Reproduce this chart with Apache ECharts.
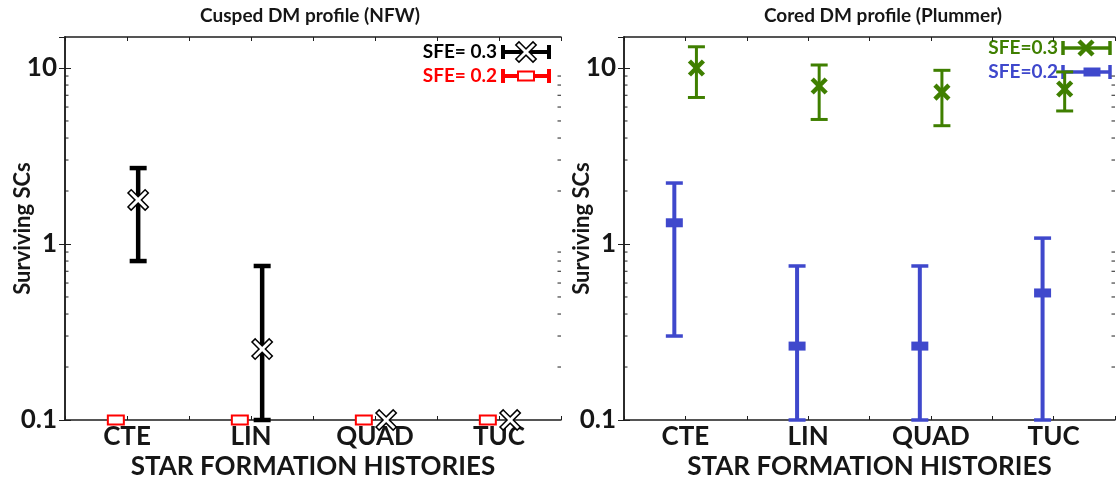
<!DOCTYPE html>
<html><head><meta charset="utf-8">
<script src="https://cdn.jsdelivr.net/npm/echarts@6/dist/echarts.min.js"></script>
<style>html,body{margin:0;padding:0;background:#fff}#c{width:1118px;height:487px}</style>
</head><body><div id="c"></div>
<script>
// ---------- data ----------
const categories = ['CTE', 'LIN', 'QUAD', 'TUC'];
const yTickLabels = ['0.1', '1', '10'];
const minorTickValues = [0.2, 0.3, 0.4, 0.5, 0.6, 0.7, 0.8, 0.9, 2, 3, 4, 5, 6, 7, 8, 9];
const panelTitles = ['Cusped DM profile (NFW)', 'Cored DM profile (Plummer)'];
const legendLabels = [['SFE= 0.3', 'SFE= 0.2'], ['SFE=0.3', 'SFE=0.2']];

// Left panel: NFW
const nfw03 = [1.78, 0.253, 0.1, 0.1];
const nfw03Low = [0.8, 0.1, null, null];
const nfw03High = [2.7, 0.75, null, null];
const nfw02 = [0.1, 0.1, 0.1, 0.1];

// Right panel: Plummer
const plum03 = [10.0, 7.9, 7.3, 7.6];
const plum03Low = [6.8, 5.1, 4.7, 5.7];
const plum03High = [13.2, 10.4, 9.7, 9.5];
const plum02 = [1.32, 0.263, 0.263, 0.527];
const plum02Low = [0.3, 0.1, 0.1, 0.1];
const plum02High = [2.22, 0.75, 0.75, 1.08];

// ---------- styling ----------
const FONT = 'Lato';
const TXT = '#161616';
const AX = '#1e1e1e';
const COL = { black: '#000000', red: '#ff0000', green: '#3f7f00', blue: '#3f48cc' };
const OFF = 0.09;

function markerEls(kind, cx, cy, color) {
  const els = [];
  if (kind === 'xOutline') {
    const s = 7;
    const pair = (lw, stroke) => [
      { type: 'line', shape: { x1: cx - s, y1: cy - s, x2: cx + s, y2: cy + s }, style: { stroke, lineWidth: lw, lineCap: 'square' } },
      { type: 'line', shape: { x1: cx - s, y1: cy + s, x2: cx + s, y2: cy - s }, style: { stroke, lineWidth: lw, lineCap: 'square' } }
    ];
    els.push(...pair(6, color), ...pair(3, '#ffffff'));
  } else if (kind === 'xSolid') {
    const s = 7;
    els.push(
      { type: 'line', shape: { x1: cx - s, y1: cy - s, x2: cx + s, y2: cy + s }, style: { stroke: color, lineWidth: 4.5 } },
      { type: 'line', shape: { x1: cx - s, y1: cy + s, x2: cx + s, y2: cy - s }, style: { stroke: color, lineWidth: 4.5 } }
    );
  } else if (kind === 'rectHollow') {
    els.push({ type: 'rect', shape: { x: cx - 8, y: cy - 4.5, width: 16, height: 9 }, style: { fill: '#ffffff', stroke: color, lineWidth: 2 } });
  } else if (kind === 'rectFill') {
    els.push({ type: 'rect', shape: { x: cx - 8.5, y: cy - 4.5, width: 17, height: 9 }, style: { fill: color } });
  }
  return els;
}

function buildData(vals, lo, hi, off) {
  return vals.map((v, i) => [i + 0.5 + off, v,
    lo && lo[i] != null ? lo[i] : NaN,
    hi && hi[i] != null ? hi[i] : NaN]);
}

function errSeries(gi, data, st) {
  return {
    type: 'custom', xAxisIndex: gi * 2, yAxisIndex: gi * 2, clip: false, z: 5,
    encode: { x: 0, y: 1 },
    data,
    renderItem: function (params, api) {
      const x = api.value(0), y = api.value(1), lo = api.value(2), hi = api.value(3);
      const children = [];
      if (!isNaN(lo) && !isNaN(hi)) {
        const pl = api.coord([x, lo]), ph = api.coord([x, hi]);
        children.push({ type: 'line', shape: { x1: pl[0], y1: pl[1], x2: ph[0], y2: ph[1] }, style: { stroke: st.color, lineWidth: st.lw } });
        [pl, ph].forEach(p => children.push({ type: 'line', shape: { x1: p[0] - st.capW / 2, y1: p[1], x2: p[0] + st.capW / 2, y2: p[1] }, style: { stroke: st.color, lineWidth: st.capLw } }));
      }
      const c = api.coord([x, y]);
      children.push(...markerEls(st.marker, c[0], c[1], st.color));
      return { type: 'group', children };
    }
  };
}

function minorTickSeries(gi) {
  return {
    type: 'custom', xAxisIndex: gi * 2, yAxisIndex: gi * 2, clip: false, z: 3, silent: true,
    encode: { x: 0, y: 1 },
    data: minorTickValues.map(v => [0, v]),
    renderItem: function (params, api) {
      const v = api.value(1);
      const l = api.coord([0, v]), r = api.coord([4, v]);
      return { type: 'group', children: [
        { type: 'line', shape: { x1: l[0], y1: l[1], x2: l[0] + 3.5, y2: l[1] }, style: { stroke: AX, lineWidth: 1 } },
        { type: 'line', shape: { x1: r[0], y1: r[1], x2: r[0] - 3.5, y2: r[1] }, style: { stroke: AX, lineWidth: 1 } }
      ] };
    }
  };
}

const grids = [
  { left: 65, top: 37, width: 496, height: 383 },
  { left: 624, top: 37, width: 495, height: 383 }
];

const xAxes = [], yAxes = [];
[0, 1].forEach(gi => {
  xAxes.push({
    gridIndex: gi, type: 'value', min: 0, max: 4, interval: 0.5, position: 'bottom',
    splitLine: { show: false },
    axisLine: { show: true, lineStyle: { color: AX, width: 1.5 } },
    axisTick: { show: true, inside: true, length: 4, lineStyle: { color: AX } },
    axisLabel: {
      margin: 4, color: TXT, fontFamily: FONT, fontWeight: 'bold', fontSize: 26,
      formatter: v => (Math.round(v * 2) % 2 === 1 ? categories[Math.floor(v)] : '')
    },
    name: 'STAR FORMATION HISTORIES', nameLocation: 'middle', nameGap: 34, nameMoveOverlap: false,
    nameTextStyle: { color: TXT, fontFamily: FONT, fontWeight: 'bold', fontSize: 26 }
  });
  xAxes.push({
    gridIndex: gi, type: 'value', min: 0, max: 4, interval: 0.5, position: 'top',
    splitLine: { show: false },
    axisLine: { show: true, lineStyle: { color: AX, width: 1.5 } },
    axisTick: { show: true, inside: true, length: 4, lineStyle: { color: AX } },
    axisLabel: { show: false }
  });
  yAxes.push({
    gridIndex: gi, type: 'log', logBase: 10, min: 0.1, max: 15, position: 'left',
    splitLine: { show: false },
    axisLine: { show: true, lineStyle: { color: AX, width: 1.5 } },
    axisTick: { show: true, inside: true, length: 6, lineStyle: { color: AX } },
    axisLabel: {
      margin: 8, color: TXT, fontFamily: FONT, fontWeight: 'bold', fontSize: 26, showMaxLabel: false,
      formatter: v => { const e = Math.log10(v), r = Math.round(e); return (Math.abs(e - r) < 1e-6 && r >= -1 && r <= 1) ? yTickLabels[r + 1] : ''; }
    },
    name: 'Surviving SCs', nameLocation: 'middle', nameGap: 31, nameRotate: 90, nameMoveOverlap: false,
    nameTextStyle: { color: TXT, fontFamily: FONT, fontWeight: 'bold', fontSize: 22 }
  });
  yAxes.push({
    gridIndex: gi, type: 'log', logBase: 10, min: 0.1, max: 15, position: 'right',
    splitLine: { show: false },
    axisLine: { show: true, lineStyle: { color: AX, width: 1.5 } },
    axisTick: { show: true, inside: true, length: 6, lineStyle: { color: AX } },
    axisLabel: { show: false }
  });
});

const S = {
  black: { color: COL.black, marker: 'xOutline', lw: 4.5, capW: 17, capLw: 4.5 },
  red: { color: COL.red, marker: 'rectHollow', lw: 4, capW: 17, capLw: 4 },
  green: { color: COL.green, marker: 'xSolid', lw: 3, capW: 17, capLw: 3 },
  blue: { color: COL.blue, marker: 'rectFill', lw: 4, capW: 17, capLw: 3.5 }
};

const series = [
  minorTickSeries(0), minorTickSeries(1),
  errSeries(0, buildData(nfw02, null, null, -OFF), S.red),
  errSeries(0, buildData(nfw03, nfw03Low, nfw03High, OFF), S.black),
  errSeries(1, buildData(plum02, plum02Low, plum02High, -OFF), S.blue),
  errSeries(1, buildData(plum03, plum03Low, plum03High, OFF), S.green)
];

// legend drawn as graphic
function legendItem(label, st, textRight, x1, x2, mx, y, lw) {
  const els = [
    { type: 'text', style: { text: label, x: textRight, y: y, fill: st.color, font: 'bold 19px ' + FONT, align: 'right', verticalAlign: 'middle' } },
    { type: 'line', shape: { x1: x1, y1: y, x2: x2, y2: y }, style: { stroke: st.color, lineWidth: lw } },
    { type: 'line', shape: { x1: x1, y1: y - 7, x2: x1, y2: y + 7 }, style: { stroke: st.color, lineWidth: lw } },
    { type: 'line', shape: { x1: x2, y1: y - 7, x2: x2, y2: y + 7 }, style: { stroke: st.color, lineWidth: lw } }
  ];
  els.push(...markerEls(st.marker, mx, y, st.color));
  return { type: 'group', z: 10, children: els };
}

const graphics = [
  legendItem(legendLabels[0][0], S.black, 497, 503, 549, 526, 52, 4),
  legendItem(legendLabels[0][1], S.red, 497, 503, 549, 526, 76, 4),
  legendItem(legendLabels[1][0], S.green, 1058, 1063, 1110, 1086, 48, 3.5),
  legendItem(legendLabels[1][1], S.blue, 1058, 1063, 1110, 1092, 72, 3.5)
];

const chart = echarts.init(document.getElementById('c'), null, { renderer: 'canvas' });
chart.setOption({
  backgroundColor: '#ffffff',
  animation: false,
  title: [
    { text: panelTitles[0], left: 305, top: 1, textAlign: 'center', textStyle: { color: TXT, fontFamily: FONT, fontWeight: 'bold', fontSize: 19 } },
    { text: panelTitles[1], left: 878, top: 1, textAlign: 'center', textStyle: { color: TXT, fontFamily: FONT, fontWeight: 'bold', fontSize: 19 } }
  ],
  grid: grids,
  xAxis: xAxes,
  yAxis: yAxes,
  series,
  graphic: { elements: graphics }
});
</script>
</body></html>
